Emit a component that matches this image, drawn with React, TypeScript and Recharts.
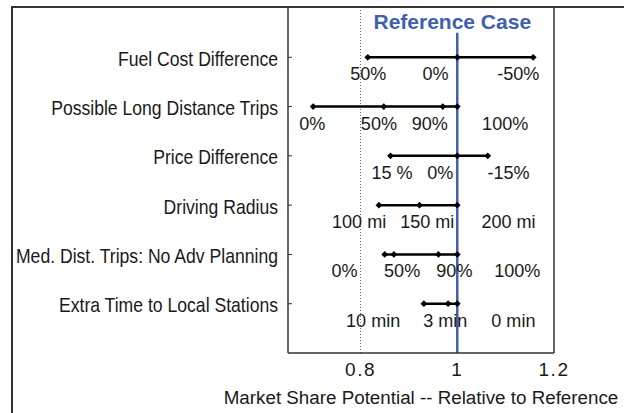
import React from 'react';
import { ScatterChart, Scatter, XAxis, YAxis, ReferenceLine } from 'recharts';

const categories = [
  'Fuel Cost Difference',
  'Possible Long Distance Trips',
  'Price Difference',
  'Driving Radius',
  'Med. Dist. Trips: No Adv Planning',
  'Extra Time to Local Stations',
];

// market share potential relative to reference, per factor level
const fuelCost = [0.815, 1.0, 1.157];
const longTrips = [0.702, 0.848, 0.97, 1.0];
const priceDiff = [0.862, 1.0, 1.063];
const drivingRadius = [0.838, 0.922, 1.0];
const medTrips = [0.85, 0.869, 0.961, 1.0];
const extraTime = [0.931, 0.981, 1.0];

// level labels and where they sit along the x scale
const fuelCostLabels = ['50%', '0%', '-50%'];
const fuelCostLabelAt = [0.816, 0.955, 1.126];
const longTripsLabels = ['0%', '50%', '90%', '100%'];
const longTripsLabelAt = [0.7, 0.838, 0.943, 1.099];
const priceDiffLabels = ['15 %', '0%', '-15%'];
const priceDiffLabelAt = [0.865, 0.965, 1.106];
const drivingRadiusLabels = ['100 mi', '150 mi', '200 mi'];
const drivingRadiusLabelAt = [0.797, 0.938, 1.106];
const medTripsLabels = ['0%', '50%', '90%', '100%'];
const medTripsLabelAt = [0.767, 0.886, 0.994, 1.124];
const extraTimeLabels = ['10 min', '3 min', '0 min'];
const extraTimeLabelAt = [0.826, 0.975, 1.116];

const xTicks = [0.8, 1, 1.2];
const rowTicks = [1, 2, 3, 4, 5, 6];

const rows = [fuelCost, longTrips, priceDiff, drivingRadius, medTrips, extraTime];
const rowLabels = [fuelCostLabels, longTripsLabels, priceDiffLabels, drivingRadiusLabels, medTripsLabels, extraTimeLabels];
const rowLabelAt = [fuelCostLabelAt, longTripsLabelAt, priceDiffLabelAt, drivingRadiusLabelAt, medTripsLabelAt, extraTimeLabelAt];

const seriesData = rows.map((vals, i) =>
  [...vals].sort((a, b) => a - b).map((v) => ({ x: v, y: i + 1 }))
);
const labelData = rowLabels.flatMap((labs, i) =>
  labs.map((t, j) => ({ x: rowLabelAt[i][j], y: i + 1, text: t }))
);

const FONT = '"Liberation Sans", Arial, sans-serif';
const TEXT = '#1a1a1a';
const BLUE = '#3F5FB2';

const Diamond = (p: any) => {
  const { cx, cy } = p;
  const r = 3.4;
  return (
    <polygon
      points={`${cx},${cy - r} ${cx + r},${cy} ${cx},${cy + r} ${cx - r},${cy}`}
      fill="#000"
    />
  );
};

const LevelLabel = (p: any) => {
  const { cx, cy, payload } = p;
  return (
    <text
      transform={`translate(${cx},${cy + 23}) scale(0.95,1)`}
      textAnchor="middle"
      fontSize={19}
      fontFamily={FONT}
      fill={TEXT}
    >
      {payload.text}
    </text>
  );
};

const CategoryTick = (p: any) => {
  const { x, y, payload } = p;
  return (
    <text
      transform={`translate(${x},${y + 8.5}) scale(0.88,1)`}
      textAnchor="end"
      fontSize={20}
      fontFamily={FONT}
      fill={TEXT}
    >
      {categories[payload.value - 1] ?? ''}
    </text>
  );
};

export default function App() {
  return (
    <div style={{ position: 'relative', width: 624, height: 413, overflow: 'hidden', background: '#fff' }}>
      <style>{`body{margin:0}`}</style>
      <div
        style={{
          position: 'absolute',
          left: 11,
          top: 6,
          width: 640,
          height: 420,
          borderTop: '2px solid #333',
          borderLeft: '2px solid #333',
          boxSizing: 'border-box',
        }}
      />
      <div style={{ position: 'absolute', left: 0, top: 0 }}>
        <ScatterChart width={624} height={413} margin={{ top: 8, right: 70, bottom: 0, left: 0 }}>
          <XAxis
            type="number"
            dataKey="x"
            domain={[0.65, 1.2]}
            ticks={xTicks}
            allowDataOverflow
            tickLine={false}
            tickSize={0}
            tickMargin={10}
            height={60}
            axisLine={{ stroke: '#333', strokeWidth: 1.5 }}
            tick={{ fontSize: 19, fill: TEXT, fontFamily: FONT, letterSpacing: 1.5 }}
            tickFormatter={(v: number) => String(v)}
            label={{
              value: 'Market Share Potential -- Relative to Reference',
              position: 'insideBottom',
              offset: 9,
              fontSize: 18.8,
              fill: TEXT,
              fontFamily: FONT,
            }}
          />
          <YAxis
            type="number"
            dataKey="y"
            domain={[0, 7]}
            reversed
            ticks={rowTicks}
            interval={0}
            allowDataOverflow
            width={288}
            tickSize={-4}
            tickMargin={14}
            axisLine={{ stroke: '#333', strokeWidth: 1.5 }}
            tickLine={{ stroke: '#333' }}
            tick={<CategoryTick />}
          />
          <ReferenceLine x={0.8} stroke="#666" strokeDasharray="1 2" strokeWidth={1} />
          <ReferenceLine x={1.2} stroke="#333" strokeWidth={1.5} />
          <ReferenceLine
            segment={[{ x: 1, y: 0.5 }, { x: 1, y: 7 }]}
            stroke={BLUE}
            strokeWidth={2.5}
            label={{
              value: 'Reference Case',
              position: 'top',
              offset: 4,
              fill: BLUE,
              fontSize: 21,
              fontWeight: 700,
              fontFamily: FONT,
              dx: -5,
            }}
          />
          {seriesData.map((d, i) => (
            <Scatter
              key={i}
              data={d}
              line={{ stroke: '#000', strokeWidth: 2.5 }}
              lineType="joint"
              shape={Diamond}
              isAnimationActive={false}
            />
          ))}
          <Scatter data={labelData} shape={LevelLabel} isAnimationActive={false} />
        </ScatterChart>
      </div>
    </div>
  );
}
